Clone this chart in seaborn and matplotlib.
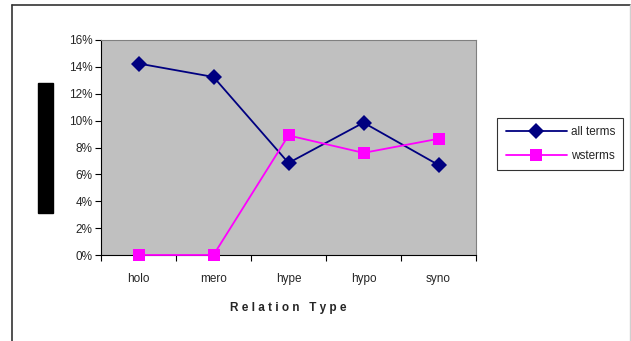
import matplotlib
matplotlib.use("Agg")
import matplotlib.pyplot as plt
import matplotlib.patches as mpatches
from matplotlib.lines import Line2D
from matplotlib.ticker import PercentFormatter, FixedLocator, NullFormatter
import seaborn as sns
import pandas as pd

relations = ["holo", "mero", "hype", "hypo", "syno"]
allterms = [14.25, 13.25, 6.85, 9.85, 6.7]
wsterms = [0.0, 0.0, 8.9, 7.6, 8.65]
y_ticks = [0, 2, 4, 6, 8, 10, 12, 14, 16]

df = pd.DataFrame({
    "relation": relations * 2,
    "share": allterms + wsterms,
    "series": ["allterms"] * len(relations) + ["wsterms"] * len(relations),
})

sns.set_style("white")
plt.rcParams["font.family"] = ["Liberation Sans", "DejaVu Sans"]

W, H = 631, 341
fig = plt.figure(figsize=(W / 100, H / 100), dpi=100)
ax = fig.add_axes([101 / W, 86 / H, 375 / W, 215 / H])
ax.set_facecolor("#c0c0c0")

palette = {"allterms": "#000080", "wsterms": "#ff00ff"}
markers = {"allterms": "D", "wsterms": "s"}
sns.lineplot(data=df, x="relation", y="share", hue="series", style="series",
             palette=palette, markers=markers, dashes=False, ax=ax,
             linewidth=1.3, markersize=8, markeredgewidth=0, sort=False)
for line in ax.lines:
    line.set_clip_on(False)
    line.set_zorder(5)
    if line.get_marker() == "s":
        line.set_markersize(9)

ax.set_xlim(-0.5, 4.5)
ax.set_ylim(0, 16)
ax.yaxis.set_major_locator(FixedLocator(y_ticks))
ax.yaxis.set_major_formatter(PercentFormatter(decimals=0))
ax.set_xticks(range(len(relations)))
ax.set_xticklabels(relations)
ax.xaxis.set_minor_locator(FixedLocator([i - 0.5 for i in range(len(relations) + 1)]))
ax.xaxis.set_minor_formatter(NullFormatter())

ax.tick_params(axis="y", which="major", direction="out", length=4, width=0.8,
               color="black", labelsize=8.5, pad=2, left=True)
ax.tick_params(axis="x", which="major", length=0, labelsize=8.5, pad=13, bottom=True)
ax.tick_params(axis="x", which="minor", direction="out", length=4, width=0.8,
               color="black", bottom=True)

for side in ("top", "right"):
    ax.spines[side].set_color("#808080")
    ax.spines[side].set_linewidth(0.8)
for side in ("left", "bottom"):
    ax.spines[side].set_color("black")
    ax.spines[side].set_linewidth(0.8)
for side in ax.spines:
    ax.spines[side].set_visible(True)

ax.set_xlabel("R e l a t i o n   T y p e", fontsize=8.5, fontweight="bold", labelpad=12)
ax.set_ylabel("")

# y-axis title: a black panel with the rotated title on it
fig.patches.append(mpatches.Rectangle((38 / W, (H - 213) / H), 15 / W, 130 / H,
                                      transform=fig.transFigure, facecolor="black",
                                      edgecolor="black", zorder=1))
fig.text(45.5 / W, (H - 148) / H, "Percentage", rotation=90, ha="center",
         va="center", fontsize=8, color="black", zorder=2)

handles, labels = ax.get_legend_handles_labels()
leg = ax.legend(handles, ["all terms", "wsterms"], loc="center left",
                bbox_to_anchor=(1.057, 0.515), frameon=True, fancybox=False,
                edgecolor="black", fontsize=8.5, handlelength=5.2,
                handletextpad=0.3, borderpad=0.7, labelspacing=1.0,
                borderaxespad=0)
leg.get_frame().set_linewidth(0.8)

# chart frame: left and top edges dark, right edge light
x0, x1, y0 = 11.5 / W, 629.5 / W, (H - 4.5) / H
fig.lines.append(Line2D([x0, x0], [0, y0], transform=fig.transFigure,
                        color="#333333", linewidth=1.2))
fig.lines.append(Line2D([x0, x1], [y0, y0], transform=fig.transFigure,
                        color="#333333", linewidth=1.2))
fig.lines.append(Line2D([x1, x1], [0, y0], transform=fig.transFigure,
                        color="#d0d0d0", linewidth=1.0))

fig.savefig("out.png", dpi=100)
